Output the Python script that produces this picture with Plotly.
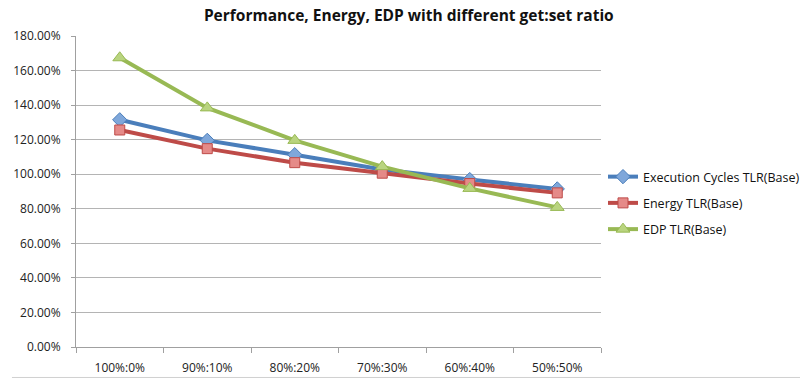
import plotly.graph_objects as go

categories = ["100%:0%", "90%:10%", "80%:20%", "70%:30%", "60%:40%", "50%:50%"]
exec_cycles = [131.5, 119.6, 111.3, 102.7, 96.9, 91.5]
energy = [125.6, 114.8, 106.7, 100.6, 94.6, 89.2]
edp = [167.4, 138.4, 119.6, 104.4, 91.8, 80.8]

y_ticks = [0, 20, 40, 60, 80, 100, 120, 140, 160, 180]

FONT = "'Open Sans', Lato, sans-serif"

series = [
    ("Execution Cycles TLR(Base)", exec_cycles, "#4a7ebb", "#7fa7da", "diamond", 11),
    ("Energy TLR(Base)", energy, "#be4b48", "#e58a88", "square", 10),
    ("EDP TLR(Base)", edp, "#98b954", "#b9d47f", "triangle-up", 12),
]

fig = go.Figure()
for i, (name, vals, col, fill, sym, size) in enumerate(series):
    fig.add_trace(go.Scatter(
        x=categories, y=vals, name=name, mode="lines+markers", legendgroup=f"g{i}",
        line=dict(color=col, width=4),
        marker=dict(symbol=sym, size=size, color=fill, line=dict(color=col, width=1)),
    ))

fig.update_layout(
    width=800, height=379,
    margin=dict(l=76, r=199, t=36, b=32, autoexpand=False),
    paper_bgcolor="white", plot_bgcolor="white",
    font=dict(family=FONT, size=12, color="#222222"),
    title=dict(text="<b>Performance, Energy, EDP with different get:set ratio</b>",
               x=0.511, xanchor="center", xref="container", y=0.958, yanchor="middle",
               font=dict(size=15.5, color="#111111")),
    showlegend=True,
    legend=dict(xref="container", yref="container", x=603 / 800, xanchor="left",
                y=1 - 203 / 379, yanchor="middle",
                font=dict(size=12.5, color="#111111"), tracegroupgap=7,
                itemwidth=30, bgcolor="rgba(0,0,0,0)"),
    xaxis=dict(type="category", tickson="boundaries", ticks="outside", ticklen=5,
               tickcolor="#a0a0a0", showgrid=False, showline=True, linecolor="#a0a0a0",
               linewidth=1, range=[-0.5, 5.5], tickfont=dict(size=12),
               ticklabelstandoff=10, automargin=False),
    yaxis=dict(range=[0, 180], tickvals=y_ticks, ticktext=[f"{v:.2f}%" for v in y_ticks],
               showgrid=True, gridcolor="#b4b4b4", gridwidth=1, zeroline=False,
               showline=True, linecolor="#a0a0a0", linewidth=1, ticks="outside",
               ticklen=4, tickcolor="#a0a0a0", tickfont=dict(size=12),
               ticklabelstandoff=8, automargin=False),
)

# bottom border of the chart area
fig.add_shape(type="line", xref="paper", yref="paper", x0=-0.122, x1=1.4,
              y0=-0.098, y1=-0.098, line=dict(color="#d0d0d0", width=1))

fig.write_html("out.html")
